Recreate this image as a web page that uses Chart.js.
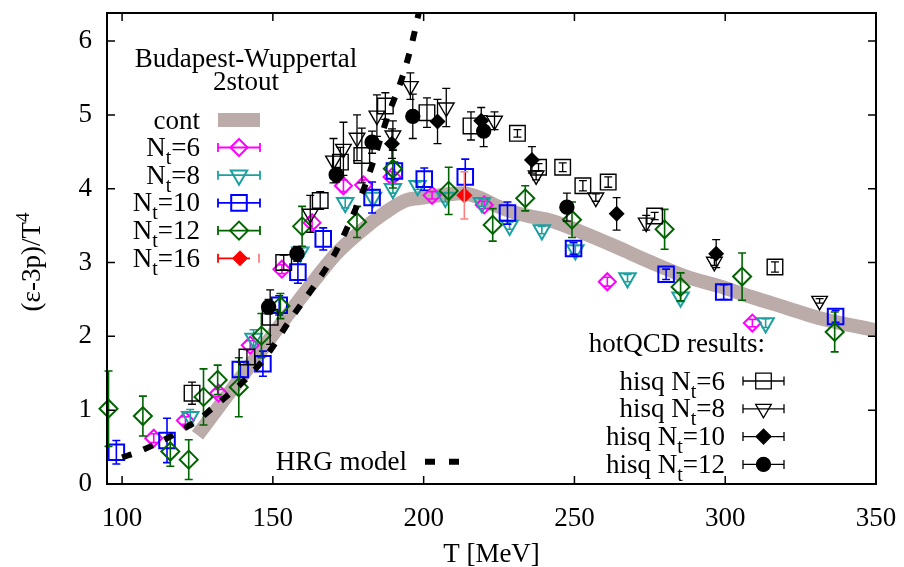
<!DOCTYPE html>
<html>
<head>
<meta charset="utf-8">
<script src="https://cdn.jsdelivr.net/npm/chart.js@4.4.0/dist/chart.umd.min.js"></script>
<style>
  body { margin: 0; background: #fff; }
</style>
</head>
<body>
<canvas id="c" width="904" height="567"></canvas>
<script>
// axis ticks
const xTicks = [100, 150, 200, 250, 300, 350];
const yTicks = [0, 1, 2, 3, 4, 5, 6];

// Budapest-Wuppertal 2stout
const nt6T = [110.5, 121.0, 132.0, 142.5, 153.0, 163.0, 173.4, 180.1, 189.5, 202.8, 220.1, 260.9, 309.0];
const nt6Y = [0.62, 0.86, 1.23, 1.88, 2.91, 3.54, 4.04, 4.05, 4.16, 3.91, 3.78, 2.74, 2.18];
const nt6Err = [0.06, 0.05, 0.05, 0.06, 0.06, 0.08, 0.08, 0.07, 0.07, 0.05, 0.05, 0.06, 0.05];

const nt8T = [122.6, 143.6, 159.1, 174.0, 183.2, 189.8, 198.0, 207.2, 219.3, 228.5, 239.2, 250.3, 267.6, 285.2, 313.4];
const nt8Y = [0.91, 1.97, 3.14, 3.81, 3.88, 4.00, 4.04, 3.88, 3.81, 3.50, 3.44, 3.17, 2.79, 2.53, 2.18];
const nt8Err = [0.10, 0.12, 0.06, 0.07, 0.10, 0.06, 0.05, 0.06, 0.05, 0.05, 0.05, 0.06, 0.05, 0.06, 0.06];

const nt10T = [98.1, 114.9, 139.2, 146.7, 152.1, 158.3, 166.7, 182.9, 190.3, 200.2, 213.8, 227.8, 249.7, 280.4, 299.5, 336.6];
const nt10Y = [0.43, 0.59, 1.55, 1.63, 2.42, 2.87, 3.32, 3.88, 4.24, 4.13, 4.16, 3.67, 3.19, 2.84, 2.60, 2.27];
const nt10Err = [0.16, 0.30, 0.10, 0.17, 0.13, 0.15, 0.15, 0.21, 0.12, 0.15, 0.24, 0.15, 0.08, 0.07, 0.10, 0.08];

const nt12T = [95.5, 106.9, 116.0, 122.1, 127.0, 131.7, 138.7, 146.2, 152.5, 159.7, 177.9, 189.8, 208.3, 222.9, 233.7, 249.2, 279.9, 285.2, 305.6, 336.3];
const nt12Y = [1.02, 0.92, 0.44, 0.33, 1.18, 1.41, 1.31, 2.01, 2.41, 3.49, 3.55, 4.27, 3.97, 3.51, 3.87, 3.58, 3.45, 2.67, 2.81, 2.06];
const nt12Err = [0.51, 0.27, 0.20, 0.27, 0.38, 0.20, 0.40, 0.30, 0.17, 0.27, 0.21, 0.26, 0.32, 0.22, 0.17, 0.24, 0.27, 0.19, 0.32, 0.27];

const nt16T = [213.5];
const nt16Y = [3.91];
const nt16Err = [0.32];

// continuum band (centre line)
const contT = [125, 134, 144, 154, 164, 171, 179, 187, 194, 200, 207, 213, 219, 224, 230, 236, 242, 253, 264, 275, 287, 298, 309, 320, 331, 350];
const contY = [0.66, 1.15, 1.69, 2.24, 2.77, 3.12, 3.42, 3.67, 3.84, 3.88, 3.92, 3.94, 3.87, 3.77, 3.68, 3.62, 3.57, 3.40, 3.21, 3.01, 2.81, 2.68, 2.53, 2.39, 2.25, 2.08];

// hotQCD hisq
const hq6T = [123.2, 141.4, 149.1, 153.6, 165.7, 172.4, 179.5, 187.3, 201.1, 215.7, 231.1, 238.1, 246.1, 252.8, 261.2, 276.6, 316.5];
const hq6Y = [1.23, 1.72, 2.26, 3.00, 3.84, 4.36, 4.45, 5.12, 5.03, 4.85, 4.75, 4.29, 4.29, 4.04, 4.09, 3.63, 2.94];
const hq6Err = [0.15, 0.10, 0.37, 0.10, 0.12, 0.20, 0.37, 0.18, 0.20, 0.19, 0.05, 0.05, 0.06, 0.07, 0.07, 0.05, 0.07];

const hq8T = [162.4, 170.1, 173.4, 177.9, 184.5, 189.8, 195.6, 207.5, 223.5, 237.3, 257.1, 273.8, 296.4, 331.3];
const hq8Y = [3.66, 4.38, 4.54, 4.69, 4.99, 4.72, 5.39, 5.10, 4.92, 4.18, 3.88, 3.54, 3.01, 2.48];
const hq8Err = [0.25, 0.30, 0.36, 0.31, 0.28, 0.20, 0.18, 0.26, 0.12, 0.06, 0.05, 0.10, 0.05, 0.03];

const hq10T = [189.5, 204.6, 219.1, 235.9, 264.0, 297.0];
const hq10Y = [4.61, 4.91, 4.92, 4.39, 3.66, 3.12];
const hq10Err = [0.20, 0.30, 0.18, 0.18, 0.22, 0.19];

const hq12T = [148.6, 158.0, 171.0, 182.9, 196.4, 219.9, 247.5];
const hq12Y = [2.40, 3.12, 4.19, 4.63, 4.98, 4.78, 3.75];
const hq12Err = [0.10, 0.10, 0.10, 0.15, 0.30, 0.21, 0.19];

// HRG model
const hrgT = [100, 105, 110, 115, 120, 125, 130, 137, 142, 146, 150, 155, 160, 164, 170, 175, 180, 183, 188, 193, 196, 199];
const hrgY = [0.36, 0.43, 0.52, 0.62, 0.74, 0.86, 1.03, 1.27, 1.46, 1.64, 1.86, 2.18, 2.47, 2.70, 3.08, 3.50, 3.98, 4.33, 4.97, 5.52, 5.95, 6.50];

const FONT = '"Liberation Serif", "Times New Roman", serif';
const BAND = '#bbaba9';

function pts(T, Y) {
  return T.map((t, i) => ({ x: t, y: Y[i] }));
}

function markers(T, Y, err, color, style, radius, filled, opts) {
  return Object.assign({
    data: pts(T, Y),
    err: err,
    showLine: false,
    pointStyle: style,
    pointRadius: radius,
    pointHoverRadius: radius,
    pointBorderColor: color,
    pointBackgroundColor: filled ? color : 'rgba(0,0,0,0)',
    pointBorderWidth: 2,
    barColor: color,
    barWidth: 1.6,
    clip: false
  }, opts || {});
}

// vertical error bars drawn through the chart's own scales
const errorBars = {
  id: 'errorBars',
  afterDatasetDraw(chart, args) {
    const ds = chart.data.datasets[args.index];
    if (!ds.err) return;
    const c = chart.ctx, ys = chart.scales.y;
    c.save();
    c.strokeStyle = ds.barColor;
    c.lineWidth = ds.barWidth;
    args.meta.data.forEach((p, i) => {
      const v = ds.data[i], e = ds.err[i];
      const y1 = ys.getPixelForValue(v.y + e), y2 = ys.getPixelForValue(v.y - e);
      c.beginPath();
      c.moveTo(p.x, y1); c.lineTo(p.x, y2);
      c.moveTo(p.x - 4, y1); c.lineTo(p.x + 4, y1);
      c.moveTo(p.x - 4, y2); c.lineTo(p.x + 4, y2);
      c.stroke();
    });
    c.restore();
  }
};

function rich(c, parts, x, base, align) {
  let w = 0;
  parts.forEach(p => { c.font = p[1] + 'px ' + FONT; w += c.measureText(p[0]).width; });
  let x0 = align === 'right' ? x - w : align === 'center' ? x - w / 2 : x;
  c.textAlign = 'left';
  c.textBaseline = 'alphabetic';
  parts.forEach(p => {
    c.font = p[1] + 'px ' + FONT;
    c.fillText(p[0], x0, base + (p[2] || 0));
    x0 += c.measureText(p[0]).width;
  });
}

function mark(c, style, radius, rotation, color, filled, x, y, bw) {
  c.save();
  c.strokeStyle = color;
  c.fillStyle = filled ? color : 'rgba(0,0,0,0)';
  c.lineWidth = bw;
  Chart.helpers.drawPoint(c, { pointStyle: style, radius: radius, rotation: rotation, borderWidth: bw }, x, y);
  c.restore();
}

function hbar(c, x1, x2, y, color, lw) {
  c.save();
  c.strokeStyle = color;
  c.lineWidth = lw;
  c.beginPath();
  c.moveTo(x1, y); c.lineTo(x2, y);
  c.moveTo(x1, y - 4.5); c.lineTo(x1, y + 4.5);
  c.moveTo(x2, y - 4.5); c.lineTo(x2, y + 4.5);
  c.stroke();
  c.restore();
}

const frameAndText = {
  id: 'frameAndText',
  afterDraw(chart) {
    const c = chart.ctx, a = chart.chartArea, xs = chart.scales.x, ys = chart.scales.y;
    c.save();
    c.fillStyle = '#000';
    c.strokeStyle = '#000';

    // frame with inward mirrored ticks
    c.lineWidth = 2;
    c.strokeRect(a.left, a.top, a.right - a.left, a.bottom - a.top);
    c.lineWidth = 1.5;
    c.beginPath();
    yTicks.forEach(v => {
      const py = ys.getPixelForValue(v);
      c.moveTo(a.left, py); c.lineTo(a.left + 8, py);
      c.moveTo(a.right, py); c.lineTo(a.right - 8, py);
    });
    xTicks.forEach(v => {
      const px = xs.getPixelForValue(v);
      c.moveTo(px, a.bottom); c.lineTo(px, a.bottom - 8);
      c.moveTo(px, a.top); c.lineTo(px, a.top + 8);
    });
    c.stroke();

    // tick labels
    c.font = '27px ' + FONT;
    c.textBaseline = 'middle';
    c.textAlign = 'right';
    yTicks.forEach(v => c.fillText(String(v), 92, ys.getPixelForValue(v)));
    c.textAlign = 'center';
    c.textBaseline = 'alphabetic';
    xTicks.forEach(v => c.fillText(String(v), xs.getPixelForValue(v), 526));

    // axis titles
    rich(c, [['T [MeV]', 27]], (a.left + a.right) / 2, 562, 'center');
    c.save();
    c.translate(31, 262);
    c.rotate(-Math.PI / 2);
    rich(c, [['(\u03b5-3p)/T', 27], ['4', 19, -11]], 0, 9, 'center');
    c.restore();

    // Budapest-Wuppertal legend
    rich(c, [['Budapest-Wuppertal', 27]], 246, 67, 'center');
    rich(c, [['2stout', 27]], 246, 90, 'center');
    c.save();
    c.strokeStyle = BAND;
    c.lineWidth = 14;
    c.beginPath(); c.moveTo(218, 120); c.lineTo(260, 120); c.stroke();
    c.restore();
    rich(c, [['cont', 27]], 200, 128.5, 'right');

    const bw = [
      ['6', '#ff00ff', 'rectRot', 8.5, 0],
      ['8', '#1fa0a0', 'triangle', 9.5, 180],
      ['10', '#0000ff', 'rect', 11, 0],
      ['12', '#006400', 'rectRot', 9, 0]
    ];
    bw.forEach((e, i) => {
      const y = 147.5 + i * 27.7;
      rich(c, [['N', 27], ['t', 20, 8], ['=' + e[0], 27]], 200, y + 8.5, 'right');
      hbar(c, 218, 260, y, e[1], 1.8);
      mark(c, e[2], e[3], e[4], e[1], false, 239, y, 2);
    });
    const y16 = 147.5 + 4 * 27.7;
    rich(c, [['N', 27], ['t', 20, 8], ['=16', 27]], 200, y16 + 8.5, 'right');
    c.save();
    c.strokeStyle = '#ff0000'; c.lineWidth = 1.8;
    c.beginPath();
    c.moveTo(218, y16); c.lineTo(250, y16);
    c.moveTo(218, y16 - 4.5); c.lineTo(218, y16 + 4.5);
    c.stroke();
    c.strokeStyle = '#ff8080';
    c.beginPath(); c.moveTo(259, y16 - 4.5); c.lineTo(259, y16 + 4.5); c.stroke();
    c.restore();
    mark(c, 'rectRot', 7.5, 0, '#ff0000', true, 240, y16, 1);

    // HRG legend
    rich(c, [['HRG model', 27]], 407, 470, 'right');
    c.save();
    c.lineWidth = 6;
    c.beginPath();
    c.moveTo(425, 461.7); c.lineTo(435, 461.7);
    c.moveTo(449, 461.7); c.lineTo(459, 461.7);
    c.stroke();
    c.restore();

    // hotQCD legend
    rich(c, [['hotQCD results:', 27]], 765, 352, 'right');
    const hq = [
      ['6', 'rect', 11, 0, false],
      ['8', 'triangle', 9, 180, false],
      ['10', 'rectRot', 7.5, 0, true],
      ['12', 'circle', 7, 0, true]
    ];
    hq.forEach((e, i) => {
      const y = 381 + i * 27.8;
      rich(c, [['hisq N', 27], ['t', 20, 8], ['=' + e[0], 27]], 725, y + 8.5, 'right');
      hbar(c, 743, 784, y, '#000', 1.3);
      mark(c, e[1], e[2], e[3], '#000', e[4], 763.5, y, 1.3);
    });
    c.restore();
  }
};

const blackOpts = { pointBorderWidth: 1.4, barWidth: 1.3 };

new Chart(document.getElementById('c').getContext('2d'), {
  type: 'scatter',
  data: {
    datasets: [
      {
        label: 'HRG model',
        data: pts(hrgT, hrgY),
        showLine: true,
        borderColor: '#000',
        borderWidth: 6,
        borderDash: [10, 13],
        borderCapStyle: 'butt',
        cubicInterpolationMode: 'monotone',
        pointRadius: 0,
        clip: 0
      },
      markers(hq12T, hq12Y, hq12Err, '#000', 'circle', 7, true, blackOpts),
      markers(hq10T, hq10Y, hq10Err, '#000', 'rectRot', 7, true, blackOpts),
      markers(hq8T, hq8Y, hq8Err, '#000', 'triangle', 9, false, Object.assign({ pointRotation: 180 }, blackOpts)),
      markers(hq6T, hq6Y, hq6Err, '#000', 'rect', 11, false, blackOpts),
      markers(nt16T, nt16Y, nt16Err, '#ff0000', 'rectRot', 7.5, true, { barColor: '#ff8080', pointBorderWidth: 1 }),
      markers(nt12T, nt12Y, nt12Err, '#006400', 'rectRot', 9, false),
      markers(nt10T, nt10Y, nt10Err, '#0000ff', 'rect', 11, false),
      markers(nt8T, nt8Y, nt8Err, '#1fa0a0', 'triangle', 9.5, false, { pointRotation: 180 }),
      markers(nt6T, nt6Y, nt6Err, '#ff00ff', 'rectRot', 8.5, false),
      {
        label: 'cont',
        data: pts(contT, contY),
        showLine: true,
        borderColor: BAND,
        borderWidth: 14,
        borderCapStyle: 'butt',
        borderJoinStyle: 'round',
        cubicInterpolationMode: 'monotone',
        pointRadius: 0,
        clip: 0
      }
    ]
  },
  options: {
    responsive: false,
    animation: false,
    devicePixelRatio: 1,
    layout: { padding: { top: 12, right: 28, left: 0, bottom: 0 } },
    plugins: { legend: { display: false }, tooltip: { enabled: false } },
    scales: {
      x: {
        type: 'linear', min: 95, max: 350,
        grid: { display: false, drawTicks: false },
        border: { display: false },
        ticks: { display: false },
        afterFit: s => { s.height = 83; }
      },
      y: {
        type: 'linear', min: 0, max: 6.38,
        grid: { display: false, drawTicks: false },
        border: { display: false },
        ticks: { display: false },
        afterFit: s => { s.width = 107; }
      }
    }
  },
  plugins: [errorBars, frameAndText]
});
</script>
</body>
</html>
